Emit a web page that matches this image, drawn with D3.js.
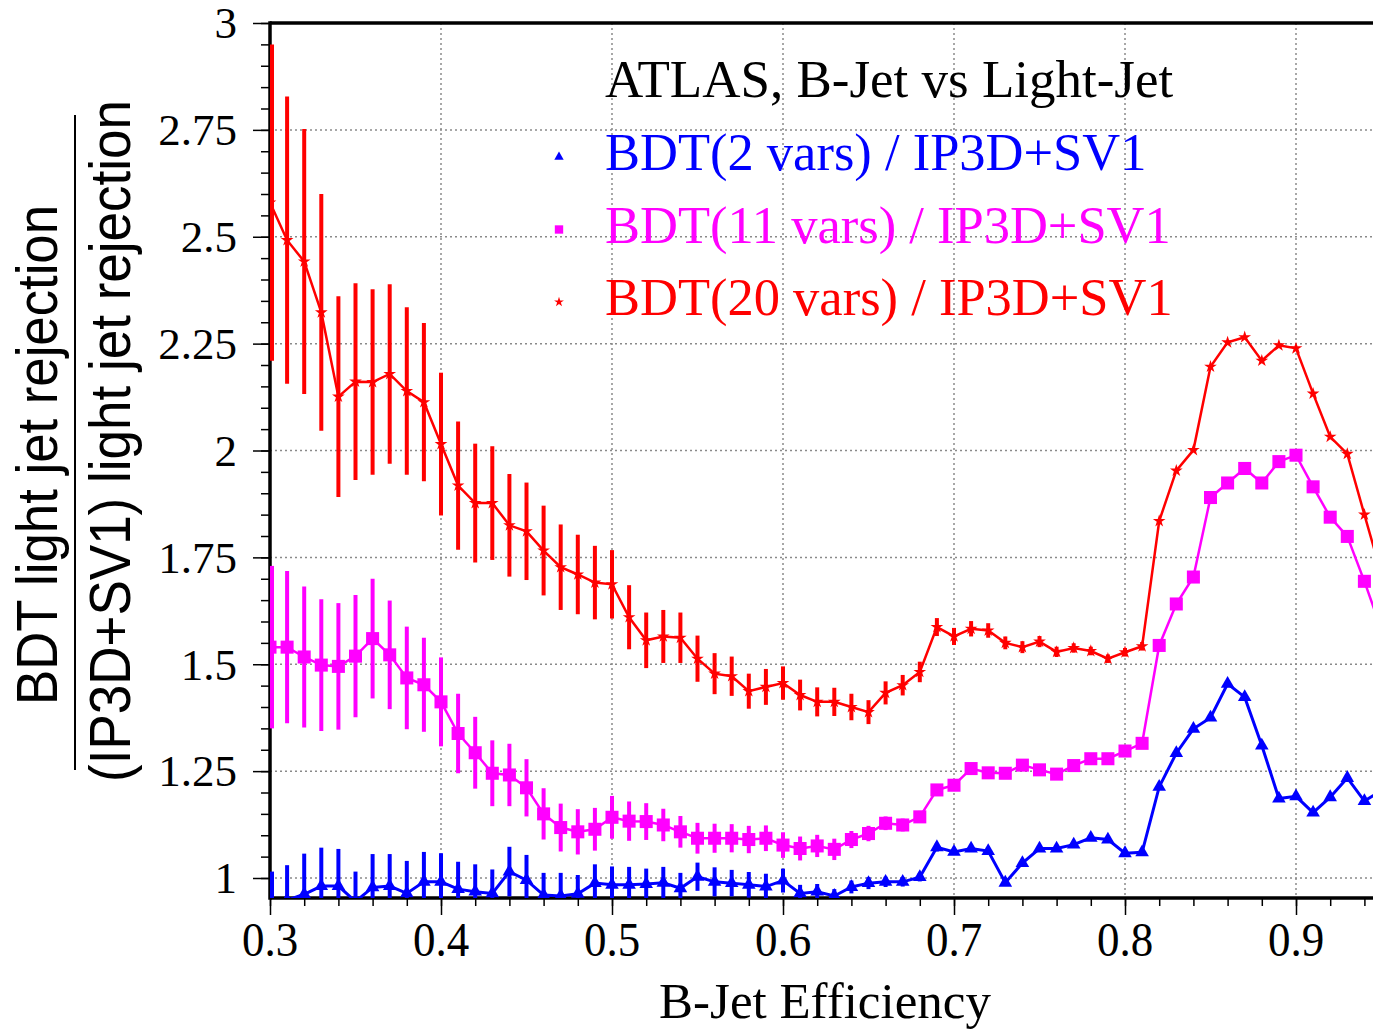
<!DOCTYPE html>
<html>
<head>
<meta charset="utf-8">
<script src="https://cdn.jsdelivr.net/npm/d3@7"></script>
<style>
  body { margin: 0; background: #fff; }
  svg { display: block; }
</style>
</head>
<body>
<div id="chart"></div>
<script>
// b-jet efficiency points, 0.30 ... 0.95
var effs = [0.30,0.31,0.32,0.33,0.34,0.35,0.36,0.37,0.38,0.39,0.40,0.41,0.42,0.43,0.44,0.45,0.46,0.47,0.48,0.49,
    0.50,0.51,0.52,0.53,0.54,0.55,0.56,0.57,0.58,0.59,0.60,0.61,0.62,0.63,0.64,0.65,0.66,0.67,0.68,0.69,
    0.70,0.71,0.72,0.73,0.74,0.75,0.76,0.77,0.78,0.79,0.80,0.81,0.82,0.83,0.84,0.85,0.86,0.87,0.88,0.89,
    0.90,0.91,0.92,0.93,0.94,0.95];

var bdt2 = [0.945,0.948,0.962,0.981,0.981,0.945,0.978,0.981,0.964,0.991,0.991,0.974,0.968,0.964,1.015,0.995,0.960,0.958,0.963,0.988,
    0.984,0.984,0.986,0.989,0.976,1.003,0.991,0.988,0.984,0.980,0.994,0.964,0.968,0.958,0.979,0.988,0.991,0.991,1.002,1.072,
    1.061,1.069,1.063,0.989,1.035,1.069,1.069,1.078,1.094,1.090,1.058,1.060,1.213,1.292,1.349,1.375,1.454,1.423,1.310,1.186,
    1.191,1.153,1.189,1.234,1.180,1.205];
var bdt2Err = [0.07,0.082,0.095,0.09,0.087,0.07,0.078,0.075,0.076,0.07,0.067,0.064,0.064,0.056,0.058,0.059,0.052,0.054,0.044,0.044,
    0.043,0.042,0.036,0.037,0.036,0.033,0.034,0.031,0.03,0.03,0.028,0.02,0.018,0.016,0.015,0.014,0.012,0.011,0.01,0.01,
    0,0,0,0,0,0,0,0,0,0,0,0,0,0,0,0,0,0,0,0,0,0,0,0,0,0];

var bdt11 = [1.540,1.540,1.517,1.498,1.495,1.519,1.560,1.522,1.468,1.452,1.412,1.338,1.293,1.245,1.241,1.211,1.150,1.118,1.108,1.114,
    1.142,1.133,1.132,1.124,1.108,1.093,1.093,1.093,1.090,1.093,1.077,1.069,1.075,1.067,1.090,1.104,1.128,1.124,1.143,1.206,
    1.217,1.256,1.246,1.245,1.264,1.253,1.243,1.263,1.279,1.279,1.297,1.315,1.544,1.641,1.704,1.890,1.924,1.958,1.924,1.974,
    1.989,1.915,1.844,1.799,1.694,1.580];
var bdt11Err = [0.19,0.178,0.165,0.154,0.148,0.143,0.14,0.127,0.12,0.11,0.104,0.093,0.084,0.077,0.073,0.067,0.06,0.056,0.053,0.05,
    0.05,0.046,0.043,0.038,0.037,0.036,0.034,0.033,0.032,0.03,0.03,0.028,0.026,0.025,0.02,0.018,0.016,0.015,0.014,0.012,
    0.011,0.01,0,0,0,0,0,0,0,0,0,0,0,0,0,0,0,0,0,0,0,0,0,0,0,0];

var bdt20 = [2.580,2.492,2.442,2.323,2.126,2.161,2.160,2.179,2.139,2.113,2.015,1.918,1.877,1.877,1.825,1.811,1.766,1.727,1.710,1.691,
    1.687,1.610,1.556,1.565,1.562,1.513,1.478,1.472,1.437,1.447,1.456,1.428,1.412,1.412,1.400,1.388,1.433,1.451,1.482,1.587,
    1.565,1.583,1.579,1.550,1.540,1.553,1.529,1.538,1.531,1.513,1.528,1.542,1.835,1.953,2.001,2.196,2.253,2.265,2.210,2.246,
    2.239,2.133,2.032,1.992,1.850,1.710];
var bdt20Err = [0.37,0.336,0.31,0.277,0.235,0.23,0.217,0.21,0.196,0.185,0.167,0.15,0.139,0.133,0.12,0.114,0.105,0.1,0.093,0.086,
    0.08,0.075,0.065,0.062,0.059,0.054,0.048,0.046,0.041,0.042,0.039,0.036,0.034,0.033,0.031,0.028,0.027,0.024,0.024,0.021,
    0.02,0.018,0.017,0.015,0.014,0.013,0.012,0.011,0.01,0.01,0.01,0.01,0,0,0,0,0,0,0,0,0,0,0,0,0,0];

var xTicks = [0.3, 0.4, 0.5, 0.6, 0.7, 0.8, 0.9];
var yTicks = [1, 1.25, 1.5, 1.75, 2, 2.25, 2.5, 2.75, 3];
var yTickLabels = ['1', '1.25', '1.5', '1.75', '2', '2.25', '2.5', '2.75', '3'];
var legendTitle = 'ATLAS, B-Jet vs Light-Jet';
var seriesNames = ['BDT(2 vars) / IP3D+SV1', 'BDT(11 vars) / IP3D+SV1', 'BDT(20 vars) / IP3D+SV1'];

var width = 1373, height = 1029;
var pLeft = 270, pRight = 1373, pTop = 23, pBottom = 898;

var xScale = d3.scaleLinear().domain([0.3, 0.3 + (pRight - pLeft) / 1710]).range([pLeft, pRight]);
var yScale = d3.scaleLinear().domain([1 - (pBottom - 878) / 427.5, 3]).range([pBottom, pTop]);

var svg = d3.select('#chart').append('svg')
    .attr('width', width)
    .attr('height', height);

svg.append('defs').append('clipPath').attr('id', 'plotclip')
    .append('rect')
    .attr('x', pLeft).attr('y', pTop)
    .attr('width', pRight - pLeft).attr('height', pBottom - pTop);

// grid
var grid = svg.append('g').attr('class', 'grid');
grid.selectAll('.vgrid')
    .data(xTicks.slice(1))
    .enter().append('line')
    .attr('x1', function (d) { return xScale(d); })
    .attr('x2', function (d) { return xScale(d); })
    .attr('y1', pTop).attr('y2', pBottom)
    .style('stroke', '#8a8a8a').style('stroke-width', 1.5).style('stroke-dasharray', '2,3');
grid.selectAll('.hgrid')
    .data(yTicks.slice(0, -1))
    .enter().append('line')
    .attr('x1', pLeft).attr('x2', pRight)
    .attr('y1', function (d) { return yScale(d); })
    .attr('y2', function (d) { return yScale(d); })
    .style('stroke', '#8a8a8a').style('stroke-width', 1.5).style('stroke-dasharray', '2,3');

// axes (ticks only, labels drawn separately)
var xMinor = d3.range(0.3, 0.945, 0.02);
var yMinor = d3.range(0.95, 3.001, 0.05).filter(function (d) { return d >= 0.953; });

function thinTicks(g) {
    g.select('.domain').remove();
    g.selectAll('line').style('stroke-width', 1.5);
}

svg.append('g')
    .attr('transform', 'translate(0,' + pBottom + ')')
    .call(d3.axisBottom(xScale).tickValues(xMinor).tickSize(8).tickFormat(''))
    .call(thinTicks);
svg.append('g')
    .attr('transform', 'translate(0,' + pBottom + ')')
    .call(d3.axisBottom(xScale).tickValues(xTicks).tickSize(17).tickFormat(''))
    .call(thinTicks);
svg.append('g')
    .attr('transform', 'translate(' + pLeft + ',0)')
    .call(d3.axisLeft(yScale).tickValues(yMinor).tickSize(9).tickFormat(''))
    .call(thinTicks);
svg.append('g')
    .attr('transform', 'translate(' + pLeft + ',0)')
    .call(d3.axisLeft(yScale).tickValues(yTicks).tickSize(17).tickFormat(''))
    .call(thinTicks);

svg.selectAll('.xlab')
    .data(xTicks)
    .enter().append('text')
    .attr('transform', function (d) { return 'translate(' + xScale(d) + ',956) scale(1,1.06)'; })
    .attr('text-anchor', 'middle')
    .style('font-family', '"Liberation Serif", "Times New Roman", serif')
    .style('font-size', '45px')
    .text(function (d) { return d3.format('.1f')(d); });

svg.selectAll('.ylab')
    .data(yTicks)
    .enter().append('text')
    .attr('x', 237)
    .attr('y', function (d) { return yScale(d); })
    .attr('dy', '0.34em')
    .attr('text-anchor', 'end')
    .style('font-family', '"Liberation Serif", "Times New Roman", serif')
    .style('font-size', '45px')
    .text(function (d, i) { return yTickLabels[i]; });

// axis titles
svg.append('text')
    .attr('x', 825).attr('y', 1018)
    .attr('text-anchor', 'middle')
    .style('font-family', '"Liberation Serif", "Times New Roman", serif')
    .style('font-size', '51px')
    .text('B-Jet Efficiency');

svg.append('text')
    .attr('transform', 'translate(57,455) rotate(-90)')
    .attr('text-anchor', 'middle')
    .attr('textLength', 500)
    .attr('lengthAdjust', 'spacingAndGlyphs')
    .style('font-family', '"Liberation Sans", Arial, sans-serif')
    .style('font-size', '58px')
    .text('BDT light jet rejection');
svg.append('line')
    .attr('x1', 75).attr('x2', 75).attr('y1', 115).attr('y2', 770)
    .style('stroke', '#000').style('stroke-width', 2);
svg.append('text')
    .attr('transform', 'translate(130,441) rotate(-90)')
    .attr('text-anchor', 'middle')
    .attr('textLength', 682)
    .attr('lengthAdjust', 'spacingAndGlyphs')
    .style('font-family', '"Liberation Sans", Arial, sans-serif')
    .style('font-size', '58px')
    .text('(IP3D+SV1) light jet rejection');

// frame (under the data, the first error bar sits on the left spine)
svg.append('line').attr('x1', pLeft).attr('x2', pRight).attr('y1', pTop).attr('y2', pTop)
    .style('stroke', '#000').style('stroke-width', 3.5);
svg.append('line').attr('x1', pLeft).attr('x2', pRight).attr('y1', pBottom).attr('y2', pBottom)
    .style('stroke', '#000').style('stroke-width', 3.5);
svg.append('line').attr('x1', pLeft).attr('x2', pLeft).attr('y1', pTop - 1.75).attr('y2', pBottom + 1.75)
    .style('stroke', '#000').style('stroke-width', 3.5);

// data
var series = [
    {name: seriesNames[0], vals: bdt2, errs: bdt2Err, color: '#0000ff', symbol: d3.symbolTriangle, size: 80, lw: 3},
    {name: seriesNames[1], vals: bdt11, errs: bdt11Err, color: '#ff00ff', symbol: d3.symbolSquare, size: 170, lw: 2.5},
    {name: seriesNames[2], vals: bdt20, errs: bdt20Err, color: '#ff0000', symbol: d3.symbolStar, size: 50, lw: 2.5}
];

var plot = svg.append('g').attr('clip-path', 'url(#plotclip)');
var line = d3.line()
    .x(function (d) { return xScale(d.x); })
    .y(function (d) { return yScale(d.y); });

series.forEach(function (s) {
    var pts = effs.map(function (e, i) { return {x: e, y: s.vals[i], err: s.errs[i]}; });
    var g = plot.append('g').style('fill', s.color).style('stroke', s.color);
    g.selectAll('.err')
        .data(pts.filter(function (d) { return d.err > 0; }))
        .enter().append('line')
        .attr('x1', function (d) { return xScale(d.x) + (d.x === 0.3 ? 2 : 0); })
        .attr('x2', function (d) { return xScale(d.x) + (d.x === 0.3 ? 2 : 0); })
        .attr('y1', function (d) { return yScale(d.y + d.err); })
        .attr('y2', function (d) { return yScale(d.y - d.err); })
        .style('stroke-width', 4);
    g.append('path')
        .datum(pts)
        .attr('d', line)
        .style('fill', 'none')
        .style('stroke-width', s.lw);
    g.selectAll('.pt')
        .data(pts)
        .enter().append('path')
        .attr('transform', function (d) { return 'translate(' + xScale(d.x) + ',' + yScale(d.y) + ')'; })
        .attr('d', d3.symbol().type(s.symbol).size(s.size))
        .style('stroke', 'none');
});

// legend
var legend = svg.append('g').attr('class', 'legend');
legend.append('text')
    .attr('x', 605).attr('y', 97)
    .style('font-family', '"Liberation Serif", "Times New Roman", serif')
    .style('font-size', '53px')
    .style('fill', '#000')
    .text(legendTitle);
var legendSizes = [38, 70, 30];
series.forEach(function (s, i) {
    var ly = 170 + i * 72.5;
    legend.append('path')
        .attr('transform', 'translate(559,' + (ly - 13) + ')')
        .attr('d', d3.symbol().type(s.symbol).size(legendSizes[i]))
        .style('fill', s.color);
    legend.append('text')
        .attr('x', 605).attr('y', ly)
        .style('font-family', '"Liberation Serif", "Times New Roman", serif')
        .style('font-size', '52.5px')
        .style('fill', s.color)
        .text(s.name);
});
</script>
</body>
</html>
